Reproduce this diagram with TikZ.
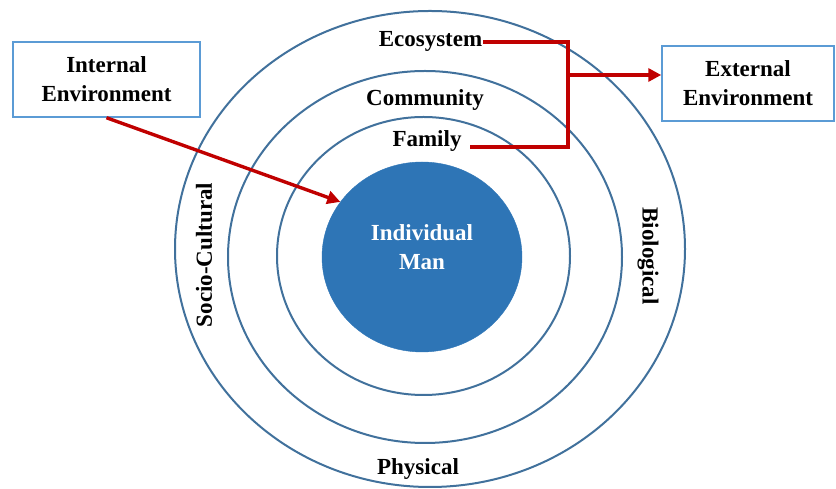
\documentclass[tikz,border=0pt]{standalone}
\usepackage{fontspec}
\setmainfont{Liberation Serif}
\usepackage{tikz}
\usetikzlibrary{arrows.meta,shapes.geometric,positioning}
\definecolor{ringblue}{RGB}{65,113,156}
\definecolor{coreblue}{RGB}{46,117,182}
\definecolor{boxblue}{RGB}{91,155,213}
\definecolor{linkred}{RGB}{192,0,0}
\newcommand{\bigbold}{\bfseries\fontsize{23}{29}\selectfont}
\tikzstyle{ring} = [ellipse, draw=ringblue, line width=2pt, inner sep=0pt]
\tikzstyle{core} = [ellipse, fill=coreblue, draw=coreblue, inner sep=0pt]
\tikzstyle{envbox} = [rectangle, minimum width=172pt, minimum height=75pt, align=center, draw=boxblue, line width=1.5pt, font=\bigbold]
\tikzstyle{level} = [inner sep=1pt, font=\bigbold]
\tikzstyle{link} = [line width=3.4pt, color=linkred, line join=miter]
\tikzstyle{arrow} = [link, -{Triangle[length=13pt,width=13pt]}]

\begin{document}
\begin{tikzpicture}[x=1pt,y=1pt]
\useasboundingbox (0,0) rectangle (836,489);
% nested rings
\node[ring, minimum width=510pt, minimum height=476pt] (outer) at (430,240) {};
\node[ring, minimum width=394pt, minimum height=372pt] (middle) at (425,232) {};
\node[ring, minimum width=293pt, minimum height=278pt] (inner) at (423.5,233) {};
\node[core, minimum width=200pt, minimum height=190pt] (man) at (422,232) {};
\node[level, text=white, align=center] (mantxt) at (422,242) {Individual\\Man};

% ring labels
\node[level, anchor=base] (eco) at (430.5,442) {Ecosystem};
\node[level, anchor=base] (com) at (425,383) {Community};
\node[level, anchor=base] (fam) at (427,342) {Family};
\node[level, anchor=base] (phy) at (418,14) {Physical};
\node[level, rotate=90] (soc) at (204,234) {Socio-Cultural};
\node[level, rotate=-90] (bio) at (648,233) {Biological};

% environments
\node[envbox, minimum width=187pt] (internal) at (106.5,409.5) {Internal\\Environment};
\node[envbox] (external) at (748,405.5) {External\\Environment};

\coordinate (fork) at (568,414);
\draw[link] (eco.east) -| (fork) |- ([xshift=7pt]fam.base east);
\draw[arrow] (fork) -- (fork -| external.west);
\draw[arrow] (internal.south) -- (man.146);
\end{tikzpicture}
\end{document}
